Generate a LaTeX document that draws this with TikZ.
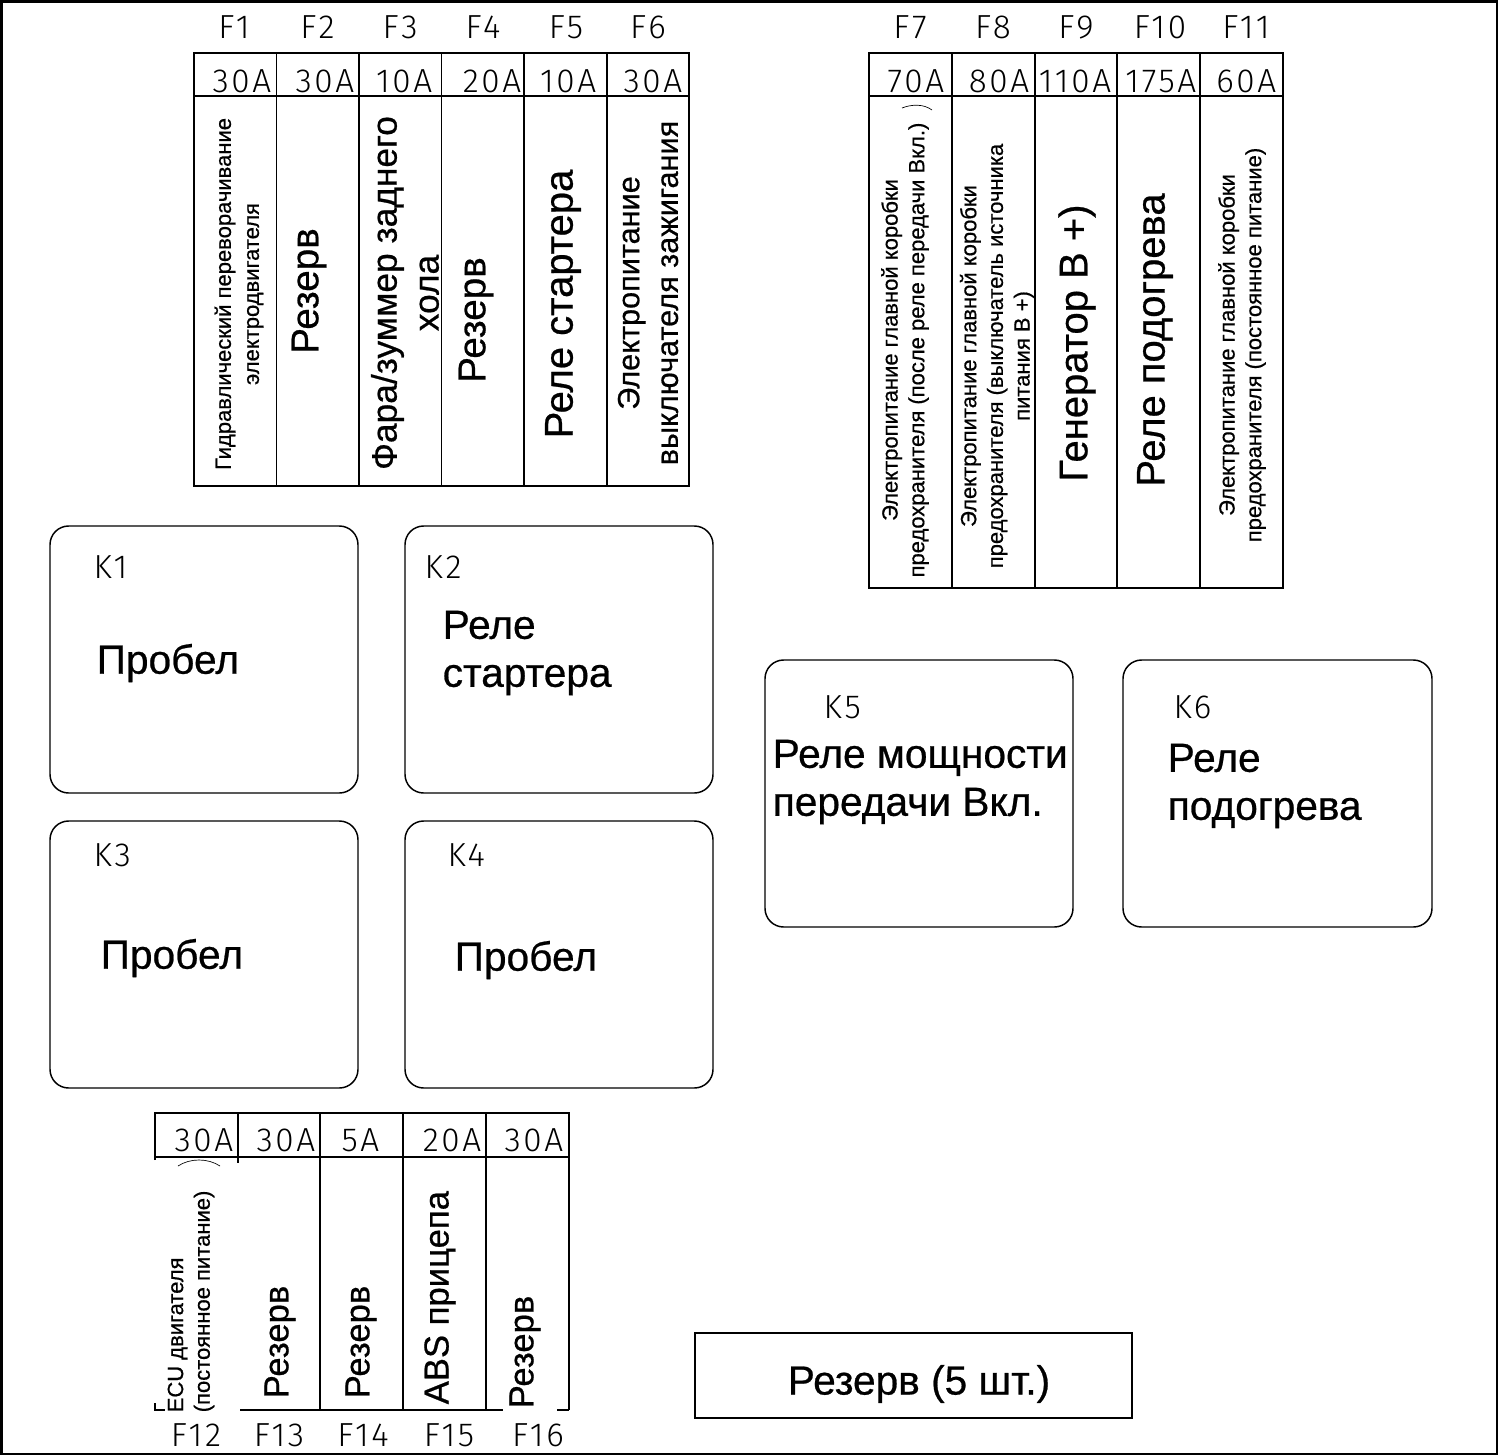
\documentclass[tikz,border=0pt]{standalone}
\usepackage{fontspec}
\setmainfont{Liberation Sans}[FakeBold=0.6]
\newfontfamily\cadfont{Fira Sans Light}[LetterSpace=8]
\newcommand{\fsz}[2]{\fontsize{#1}{#2}\selectfont}

\tikzset{every picture/.style={line width=1.1pt}}
\tikzset{
  cadlabel/.style={font=\cadfont\fsz{25}{30}, inner sep=0pt},
  fusetext/.style={rotate=90, align=center, inner sep=0pt},
  smalltext/.style={font=\fsz{16.5}{20}},
  bigtext/.style={font=\fsz{30}{36}},
  relaybox/.style={rounded corners=14pt},
  relaytext/.style={anchor=west, align=left, inner sep=0pt, font=\fsz{30.5}{36}},
}

\begin{document}
\begin{tikzpicture}[x=0.75pt,y=0.75pt,yscale=-1,xscale=1]
%set diagram size
\path (0,0) rectangle (1500,1456);
%Frame
\draw [line width=1.8pt] (1.5,1.5) rectangle (1497,1454);

%Fuse block F1-F6
\draw (194,53) rectangle (689,486);
\draw (194,96) -- (689,96);
\draw (276.5,53) -- (276.5,486);
\draw (359,53) -- (359,486);
\draw (441.5,53) -- (441.5,486);
\draw (524,53) -- (524,486);
\draw (607,53) -- (607,486);
% Text Node
\draw (234,27) node [cadlabel] (f1) {F1};
\draw (317.5,27) node [cadlabel] (f2) {F2};
\draw (400,27) node [cadlabel] (f3) {F3};
\draw (483,27) node [cadlabel] (f4) {F4};
\draw (566,27) node [cadlabel] (f5) {F5};
\draw (648,27) node [cadlabel] (f6) {F6};
% Text Node
\draw (272,81) node [cadlabel, anchor=east] (a1) {30A};
\draw (355,81) node [cadlabel, anchor=east] (a2) {30A};
\draw (433,81) node [cadlabel, anchor=east] (a3) {10A};
\draw (522,81) node [cadlabel, anchor=east] (a4) {20A};
\draw (597,81) node [cadlabel, anchor=east] (a5) {10A};
\draw (683,81) node [cadlabel, anchor=east] (a6) {30A};
% Text Node
\draw (239,294) node [fusetext, smalltext, font=\fsz{16.5}{21}] (t1) {Гидравлический переворачивание\\электродвигателя};
\draw (309,291) node [fusetext, font=\fsz{29}{36}] (t2) {Резерв};
\draw (405,293) node [fusetext, font=\fsz{26.5}{31.5}] (t3) {Фара/зуммер заднего\\хола};
\draw (476,320) node [fusetext, font=\fsz{29}{36}] (t4) {Резерв};
\draw (563,304) node [fusetext, bigtext] (t5) {Реле стартера};
\draw (648,293) node [fusetext, font=\fsz{23}{29}] (t6) {Электропитание\\выключателя зажигания};

%Fuse block F7-F11
\draw (869,53) rectangle (1283,588);
\draw (869,96) -- (1283,96);
\draw (952,53) -- (952,588);
\draw (1035,53) -- (1035,588);
\draw (1117,53) -- (1117,588);
\draw (1200,53) -- (1200,588);
% Text Node
\draw (910,27) node [cadlabel] (f7) {F7};
\draw (993,27) node [cadlabel] (f8) {F8};
\draw (1076,27) node [cadlabel] (f9) {F9};
\draw (1160,27) node [cadlabel] (f10) {F10};
\draw (1246,27) node [cadlabel] (f11) {F11};
% Text Node
\draw (945,81) node [cadlabel, anchor=east] (a7) {70A};
\draw (1030,81) node [cadlabel, anchor=east] (a8) {80A};
\draw (1112,81) node [cadlabel, anchor=east] (a9) {110A};
\draw (1197,81) node [cadlabel, anchor=east] (a10) {175A};
\draw (1277,81) node [cadlabel, anchor=east] (a11) {60A};
% Text Node
\draw (905,350) node [fusetext, smalltext] (t7) {Электропитание главной коробки\\предохранителя (после реле передачи Вкл.)};
\draw (997,356) node [fusetext, smalltext] (t8) {Электропитание главной коробки\\предохранителя (выключатель источника\\питания В +)};
\draw (1077,343) node [fusetext, bigtext] (t9) {Генератор В +)};
\draw (1155,340) node [fusetext, bigtext] (t10) {Реле подогрева};
\draw (1242,345) node [fusetext, smalltext] (t11) {Электропитание главной коробки\\предохранителя (постоянное питание)};
%Curve Lines
\draw [line width=0.5pt] (902,108) .. controls (912,104) and (924,104) .. (932,110);

%Relay K1
\draw [relaybox] (50,526) rectangle (358,793);
\draw (93,567) node [cadlabel, anchor=west] (k1) {K1};
\draw (96,663) node [relaytext] (r1) {Пробел};
%Relay K2
\draw [relaybox] (405,526) rectangle (713,793);
\draw (424,567) node [cadlabel, anchor=west] (k2) {K2};
\draw (442,653) node [relaytext] (r2) {Реле\\стартера};
%Relay K3
\draw [relaybox] (50,821) rectangle (358,1088);
\draw (93,855) node [cadlabel, anchor=west] (k3) {K3};
\draw (100,958) node [relaytext] (r3) {Пробел};
%Relay K4
\draw [relaybox] (405,821) rectangle (713,1088);
\draw (447,855) node [cadlabel, anchor=west] (k4) {K4};
\draw (454,960) node [relaytext] (r4) {Пробел};
%Relay K5
\draw [relaybox] (765,660) rectangle (1073,927);
\draw (823,707) node [cadlabel, anchor=west] (k5) {K5};
\draw (772,782) node [relaytext] (r5) {Реле мощности\\передачи Вкл.};
%Relay K6
\draw [relaybox] (1123,660) rectangle (1432,927);
\draw (1173,707) node [cadlabel, anchor=west] (k6) {K6};
\draw (1167,786) node [relaytext] (r6) {Реле\\подогрева};

%Fuse block F12-F16
\draw (155,1160) -- (155,1113) -- (569,1113) -- (569,1410);
\draw (155,1157) -- (569,1157);
\draw (238,1113) -- (238,1163);
\draw (320,1113) -- (320,1410);
\draw (403,1113) -- (403,1410);
\draw (486,1113) -- (486,1410);
\draw (155,1403) -- (155,1410) -- (165,1410);
\draw (240,1410) -- (503,1410);
\draw (557,1410) -- (569,1410);
% Text Node
\draw (234,1140) node [cadlabel, anchor=east] (a12) {30A};
\draw (316,1140) node [cadlabel, anchor=east] (a13) {30A};
\draw (380,1140) node [cadlabel, anchor=east] (a14) {5A};
\draw (482,1140) node [cadlabel, anchor=east] (a15) {20A};
\draw (564,1140) node [cadlabel, anchor=east] (a16) {30A};
% Text Node
\draw (196,1435) node [cadlabel] (f12) {F12};
\draw (279,1435) node [cadlabel] (f13) {F13};
\draw (363,1435) node [cadlabel] (f14) {F14};
\draw (449,1435) node [cadlabel] (f15) {F15};
\draw (538,1435) node [cadlabel] (f16) {F16};
% Text Node
\draw (191,1413) node [fusetext, smalltext, align=left, anchor=west] (t12) {ECU двигателя\\(постоянное питание)};
\draw (280,1399) node [fusetext, font=\fsz{26}{30}, anchor=west] (t13) {Резерв};
\draw (361,1399) node [fusetext, font=\fsz{26}{30}, anchor=west] (t14) {Резерв};
\draw (440,1405) node [fusetext, font=\fsz{26}{30}, anchor=west] (t15) {ABS прицепа};
\draw (525,1409) node [fusetext, font=\fsz{26}{30}, anchor=west] (t16) {Резерв};
%Curve Lines
\draw [line width=0.5pt] (178,1166) .. controls (190,1158) and (208,1158) .. (220,1166);

%Spare box
\draw (695,1333) rectangle (1132,1418);
\draw (919,1384) node [font=\fsz{30.5}{36}, inner sep=0pt] (spare) {Резерв (5 шт.)};
\end{tikzpicture}
\end{document}
